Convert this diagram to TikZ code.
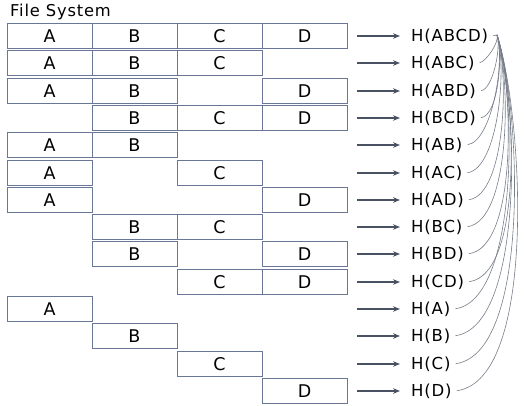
\documentclass[tikz,border=0pt]{standalone}
\usepackage{fontspec}
\setmainfont{DejaVu Sans}[LetterSpace=5]
\usetikzlibrary{arrows.meta}
\definecolor{boxline}{RGB}{105,118,150}
\definecolor{arrowc}{RGB}{72,82,98}
\definecolor{curvec}{RGB}{118,124,136}
\tikzset{
  cell/.style={draw=boxline, line width=0.9pt, minimum width=85pt, minimum height=25pt,
    inner sep=0pt, font=\fontsize{17.5}{18}\selectfont},
  hlabel/.style={anchor=west, inner sep=3pt, font=\fontsize{16.5}{17}\selectfont},
  maparrow/.style={draw=arrowc, line width=1.5pt, shorten >=8pt, -{Stealth[length=7pt,width=5.5pt]}},
  gather/.style={draw=curvec, line width=0.6pt, shorten <=2pt},
}
\begin{document}
\begin{tikzpicture}[x=1pt,y=-1pt]
\useasboundingbox (0,0) rectangle (524,406);
\node[anchor=west, inner sep=0pt, font=\fontsize{16.3}{17}\selectfont] (title) at (10,12) {File System};
\coordinate (conv) at (497,35);
\foreach \i/\lab/\cells in {
  1/ABCD/{0/A,1/B,2/C,3/D},
  2/ABC/{0/A,1/B,2/C},
  3/ABD/{0/A,1/B,3/D},
  4/BCD/{1/B,2/C,3/D},
  5/AB/{0/A,1/B},
  6/AC/{0/A,2/C},
  7/AD/{0/A,3/D},
  8/BC/{1/B,2/C},
  9/BD/{1/B,3/D},
  10/CD/{2/C,3/D},
  11/A/{0/A},
  12/B/{1/B},
  13/C/{2/C},
  14/D/{3/D}} {
  \pgfmathsetmacro{\yy}{round(36+27.3*(\i-1))}
  \foreach \c/\L in \cells {
    \node[cell] (b\i-\c) at ({49.5+85*\c},\yy) {\L};
  }
  \coordinate (s\i) at (357,\yy);
  \node[hlabel] (h\i) at (408,\yy) {H(\lab)};
  \draw[maparrow] (s\i) -- (h\i.west);
}
\foreach \i in {2,...,14} {
  \draw[gather] (h\i.east) to[out=8, in=-72, looseness=0.6] (conv);
}
\draw[gather] (h1.east) -- (conv);
\end{tikzpicture}
\end{document}
